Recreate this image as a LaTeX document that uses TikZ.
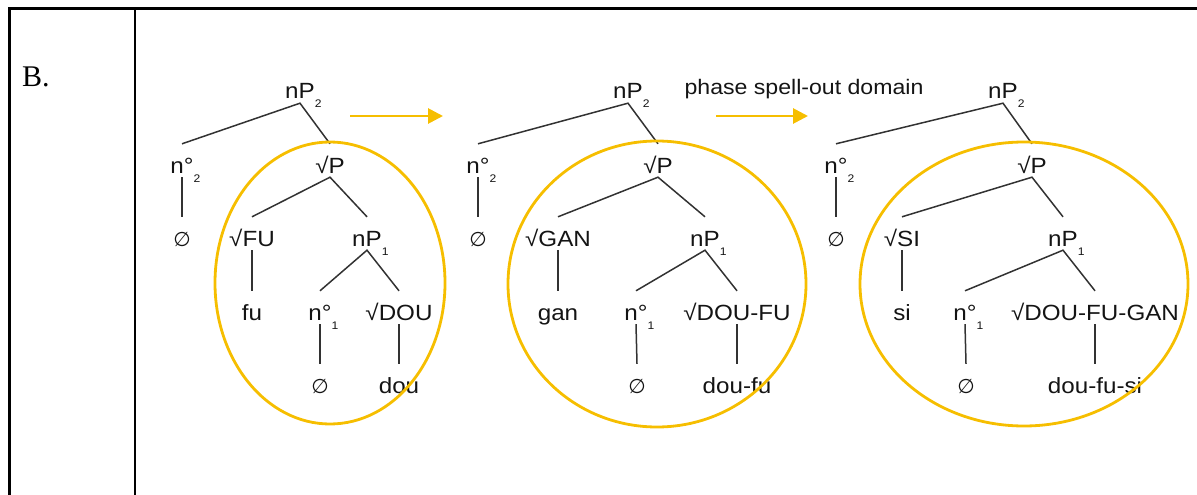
\documentclass[tikz,border=0pt]{standalone}
\usepackage{fontspec}
\usetikzlibrary{arrows.meta}
\newfontfamily\treefont{Liberation Sans}[FakeStretch=1.1]
\newfontfamily\labelfont{Liberation Serif}
\newfontfamily\symfont{DejaVu Sans}
\definecolor{gold}{RGB}{246,190,0}
\definecolor{ink}{RGB}{20,20,20}
\definecolor{branchgray}{RGB}{50,50,50}
% small index set below and to the right, without widening the label
\newcommand\idx[1]{\rlap{\kern0pt\raisebox{-9pt}{\fontsize{11}{11}\selectfont #1}}}
\newcommand\nul{{\symfont\fontsize{20}{20}\selectfont ∅}}
\begin{document}
\begin{tikzpicture}[x=1pt,y=-1pt,
  lex/.style={font=\treefont\fontsize{22}{22}\selectfont, text=ink, anchor=base,
    inner xsep=0pt, inner ysep=4pt, text height=25pt, text depth=0pt},
  branch/.style={draw=branchgray, line width=1.5pt},
  spellring/.style={draw=gold, line width=2.8pt},
  step arrow/.style={draw=gold, line width=2.8pt, -{Triangle[length=15pt,width=15pt]}},
  rule/.style={draw=black, line width=2.4pt}]
\useasboundingbox (0,0) rectangle (1197,495);

% table frame
\coordinate (tl) at (9.5,8.5);
\coordinate (tr) at (1197,8.5);
\coordinate (bl) at (9.5,495);
\coordinate (tm) at (135,8.5);
\coordinate (bm) at (135,495);
\draw[rule] (bl) -- (tl) -- (tr);
\draw[rule] (tm) -- (bm);
\node[font=\labelfont\fontsize{30}{30}\selectfont, anchor=base west, inner sep=0pt] (lbl) at (22,86) {B.};

% ---- first tree ----
\node[lex] (a0) at (300,99) {nP\idx{2}};
\node[lex] (a1) at (182,173) {n°\idx{2}};
\node[lex] (a2) at (182,246) {\nul};
\node[lex] (a3) at (330,173) {√P};
\node[lex] (a4) at (252,246) {√FU};
\node[lex] (a5) at (367,246) {nP\idx{1}};
\node[lex] (a6) at (252,320) {fu};
\node[lex] (a7) at (320,320) {n°\idx{1}};
\node[lex] (a8) at (399,320) {√DOU};
\node[lex] (a9) at (320,393) {\nul};
\node[lex] (a10) at (399,393) {dou};
\draw[branch] (a1.north) -- (a0.south) -- (a3.north);
\draw[branch] (a1.south) -- (a2.north);
\draw[branch] (a4.north) -- (a3.south) -- (a5.north);
\draw[branch] (a4.south) -- (a6.north);
\draw[branch] (a7.north) -- (a5.south) -- (a8.north);
\draw[branch] (a7.south) -- (a9.north);
\draw[branch] (a8.south) -- (a10.north);
\draw[spellring] (330,283) ellipse [x radius=115, y radius=141];

\coordinate (s1) at (350,116);
\coordinate (e1) at (443,116);
\draw[step arrow] (s1) -- (e1);

% ---- second tree ----
\node[lex] (b0) at (628,99) {nP\idx{2}};
\node[lex] (b1) at (478,173) {n°\idx{2}};
\node[lex] (b2) at (478,246) {\nul};
\node[lex] (b3) at (658,173) {√P};
\node[lex] (b4) at (558,246) {√GAN};
\node[lex] (b5) at (705,246) {nP\idx{1}};
\node[lex] (b6) at (558,320) {gan};
\node[lex] (b7) at (636,320) {n°\idx{1}};
\node[lex] (b8) at (737,320) {√DOU-FU};
\node[lex] (b9) at (637,393) {\nul};
\node[lex] (b10) at (737,393) {dou-fu};
\draw[branch] (b1.north) -- (b0.south) -- (b3.north);
\draw[branch] (b1.south) -- (b2.north);
\draw[branch] (b4.north) -- (b3.south) -- (b5.north);
\draw[branch] (b4.south) -- (b6.north);
\draw[branch] (b7.north) -- (b5.south) -- (b8.north);
\draw[branch] (b7.south) -- (b9.north);
\draw[branch] (b8.south) -- (b10.north);
\draw[spellring] (657,284) ellipse [x radius=149, y radius=143];

\node[lex, font=\treefont\fontsize{21}{21}\selectfont, inner ysep=0pt, text height=15pt] (ph) at (804,95) {phase spell-out domain};
\coordinate (s2) at (716,116);
\coordinate (e2) at (808,116);
\draw[step arrow] (s2) -- (e2);

% ---- third tree ----
\node[lex] (c0) at (1003,99) {nP\idx{2}};
\node[lex] (c1) at (836,173) {n°\idx{2}};
\node[lex] (c2) at (836,246) {\nul};
\node[lex] (c3) at (1032,173) {√P};
\node[lex] (c4) at (902,246) {√SI};
\node[lex] (c5) at (1063,246) {nP\idx{1}};
\node[lex] (c6) at (902,320) {si};
\node[lex] (c7) at (965,320) {n°\idx{1}};
\node[lex] (c8) at (1095,320) {√DOU-FU-GAN};
\node[lex] (c9) at (966,393) {\nul};
\node[lex] (c10) at (1095,393) {dou-fu-si};
\draw[branch] (c1.north) -- (c0.south) -- (c3.north);
\draw[branch] (c1.south) -- (c2.north);
\draw[branch] (c4.north) -- (c3.south) -- (c5.north);
\draw[branch] (c4.south) -- (c6.north);
\draw[branch] (c7.north) -- (c5.south) -- (c8.north);
\draw[branch] (c7.south) -- (c9.north);
\draw[branch] (c8.south) -- (c10.north);
\draw[spellring] (1024,284) ellipse [x radius=164, y radius=142];
\end{tikzpicture}
\end{document}
